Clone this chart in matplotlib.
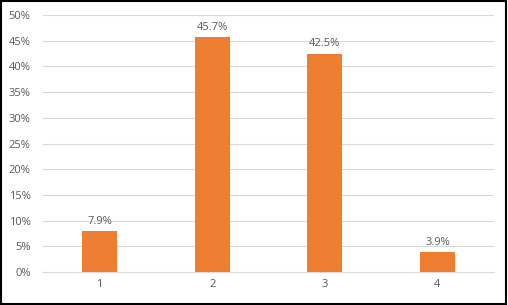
import matplotlib.pyplot as plt
from matplotlib.patches import Rectangle
from matplotlib.ticker import PercentFormatter
import numpy as np

categories = ['1', '2', '3', '4']
values = [7.9, 45.7, 42.5, 3.9]
bar_color = '#ED7D31'
text_color = '#595959'

plt.rcParams['font.family'] = ['Open Sans', 'DejaVu Sans']

fig = plt.figure(figsize=(5.08, 3.05), dpi=100)
ax = fig.add_axes([0.085, 0.108, 0.887, 0.843])

x = np.arange(len(categories))
bars = ax.bar(x, values, width=0.31, color=bar_color, zorder=3)
for b, v in zip(bars, values):
    ax.annotate(f'{v}%', (b.get_x() + b.get_width() / 2, v), xytext=(0, 3),
                textcoords='offset points', ha='center', va='bottom',
                fontsize=8, color=text_color)

ax.set_xlim(-0.5, len(categories) - 0.5)
ax.set_ylim(0, 50)
ax.set_yticks(np.arange(0, 51, 5))
ax.yaxis.set_major_formatter(PercentFormatter(decimals=0))
ax.set_xticks(x)
ax.set_xticklabels(categories)
ax.tick_params(axis='both', length=0, labelsize=8, labelcolor=text_color)
ax.tick_params(axis='x', pad=5)
ax.tick_params(axis='y', pad=9)
ax.grid(axis='y', color='#D9D9D9', linewidth=0.8, zorder=0)
for s in ['top', 'right', 'left']:
    ax.spines[s].set_visible(False)
ax.spines['bottom'].set_color('#D9D9D9')

fig.patches.append(Rectangle((0.002, 0.003), 0.995, 0.994, transform=fig.transFigure,
                             fill=False, edgecolor='black', linewidth=1.5))

fig.savefig('out.png', dpi=100)
